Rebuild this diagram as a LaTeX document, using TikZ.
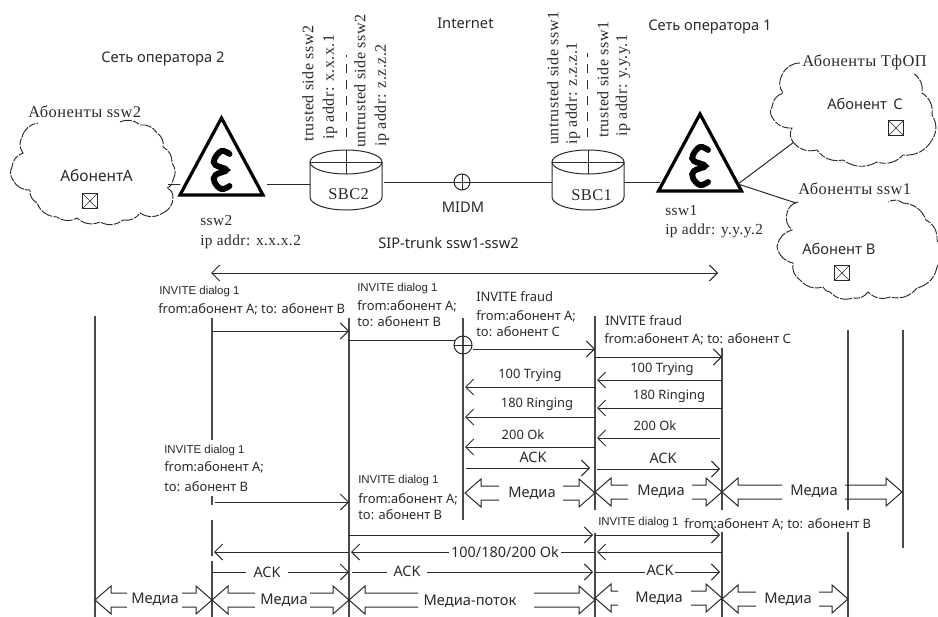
\documentclass[tikz,border=0pt]{standalone}
\usepackage{fontspec}
\setmainfont{Noto Sans}
\newfontfamily\serifcyr[LetterSpace=3]{Liberation Serif}
\newfontfamily\arialf{Liberation Sans}
\usetikzlibrary{arrows.meta,calc}
\definecolor{ink}{HTML}{2A2A2A}
\tikzset{
  lab/.style={anchor=west,inner sep=0pt,text=ink,font=\fontsize{9.7}{11}\selectfont},
  bigl/.style={lab,font=\fontsize{11}{13}\selectfont},
  ctr/.style={lab,anchor=center},
  ser/.style={lab,font=\serifcyr\fontsize{12.3}{14}\selectfont},
  sers/.style={lab,font=\serifcyr\fontsize{11.5}{14}\selectfont},
  rot/.style={lab,font=\serifcyr\fontsize{12}{14}\selectfont,rotate=90},
  inv/.style={lab,font=\arialf\fontsize{8.6}{10}\selectfont},
  line/.style={draw=ink,line width=0.75pt},
  msg/.style={line,-{Straight Barb[length=6pt,width=12pt]}},
  life/.style={draw=ink!85,line width=0.9pt},
  wb/.style={fill=white,inner sep=1.5pt,text=ink,font=\fontsize{10.8}{12}\selectfont},
  cloudline/.style={draw=ink,line width=0.7pt,dash pattern=on 9pt off 1pt on 5pt off 1pt},
  bl/.style={bend left=32},
  br/.style={bend right=32},
  tri/.style={draw=black,line width=2.4pt,line join=miter,fill=white},
  glyph/.style={draw=black,line width=4.4pt,line cap=round},
  anch/.style={inner sep=0pt,minimum size=0pt}
}
% block arrow: tip-left, tip-right, y, left shaft end, right shaft end
\newcommand{\blockarr}[5]{%
  \draw[line] (#4,#3-7)--(#1+16,#3-7)--(#1+16,#3-14)--(#1,#3)--(#1+16,#3+14)--(#1+16,#3+7)--(#4,#3+7);
  \draw[line] (#5,#3-7)--(#2-16,#3-7)--(#2-16,#3-14)--(#2,#3)--(#2-16,#3+14)--(#2-16,#3+7)--(#5,#3+7);
}
\newcommand{\msgarr}[5]{\draw[msg] ($(L#1 |- 0,#3)+(#4,0)$) -- ($(L#2 |- 0,#3)+(#5,0)$);}
\newcommand{\crossbox}[2]{%
  \draw[line] (#1-7.5,#2-7.5) rectangle (#1+7.5,#2+7.5);
  \draw[line,line width=0.5pt] (#1-7.5,#2-7.5)--(#1+7.5,#2+7.5) (#1-7.5,#2+7.5)--(#1+7.5,#2-7.5);
}
\newcommand{\sbc}[3]{% name, cx, label
  \draw[line,fill=white] (#2-36,162) -- (#2-36,197) arc[start angle=180,end angle=0,x radius=36,y radius=13] -- (#2+36,162);
  \draw[line,fill=white] (#2,162) ellipse[x radius=36,y radius=12];
  \draw[line] (#2-36,162)--(#2+36,162) (#2,150)--(#2,174);
  \node[anch,minimum width=54pt,minimum height=45pt] (#1) at (#2,182) {};
}
\newcommand{\ssw}[2]{% apex x, apex y
  \draw[tri] (#1,#2) -- (#1-41.5,#2+77) -- (#1+41.5,#2+77) -- cycle;
  \draw[glyph] plot[smooth,tension=0.7] coordinates {(#1+8,#2+36)(#1,#2+33)(#1-7,#2+41)(#1-6,#2+47)(#1+5,#2+52)(#1-6,#2+57)(#1-7,#2+64)(#1,#2+71)(#1+8,#2+68)};
}
\begin{document}
\begin{tikzpicture}[x=0.75pt,y=-0.75pt]
\useasboundingbox (0,0) rectangle (938,617);
\fill[white] (0,0) rectangle (938,617);

% anchors
\foreach \n/\x in {1/95,2/212,3/349,4/463,5/595,6/722,7/848,8/903} \coordinate (L\n) at (\x,0);

% clouds
\draw[cloudline] (120,122) to[bl] (140,125) to[bl] (157,133) to[bl] (163,147) to[bl] (172,163) to[bl] (173,180) to[bl] (167,188) to[bl] (173,197) to[bl] (163,213) to[bl] (140,213) to[bl] (123,220) to[bl] (100,222) to[bl] (77,218) to[bl] (57,217) to[bl] (37,203) to[bl] (30,190) to[bl] (13,180) to[bl] (12,167) to[bl] (23,153) to[bl] (22,137) to[bl] (38,123);
\draw[cloudline] (800,63) to[br] (782,75) to[br] (783,93) to[br] (772,107) to[br] (772,117) to[br] (792,128) to[br] (793,142) to[br] (817,150) to[br] (843,160) to[br] (877,162) to[br] (903,155) to[br] (932,140) to[br] (932,115) to[br] (922,93) to[br] (913,73);
\draw[cloudline] (798,202) to[br] (787,213) to[br] (792,230) to[br] (777,247) to[br] (793,263) to[br] (800,280) to[br] (823,287) to[br] (830,292) to[br] (853,298) to[br] (868,292) to[br] (890,297) to[br] (917,288) to[br] (937,267) to[br] (937,240) to[br] (926,220) to[br] (903,203) to[br] (888,202);

% network elements
\ssw{221.5}{118}
\ssw{700}{114}
\node[anch] (sw2l) at (180,184) {};
\node[anch] (sw2r) at (267,184) {};
\node[anch] (sw1l) at (660,182) {};
\node[anch] (sw1r) at (738,184) {};
\node[anch] (cla) at (168,184) {};
\node[anch] (clc) at (794,142) {};
\node[anch] (clb) at (796,203) {};
\sbc{sbc2}{346}{SBC2}
\sbc{sbc1}{588}{SBC1}
\draw[line] (462,182) circle[radius=8];
\draw[line] (454,182)--(470,182) (462,174)--(462,190);
\node[anch,minimum size=12pt] (midm) at (462,182) {};

\draw[line] (cla) -- (sw2l);
\draw[line] (sw2r) -- (310,184);
\draw[line] (384,182) -- (midm);
\draw[line] (midm) -- (552,182);
\draw[line] (624,182) -- (sw1l);
\draw[line] (sw1r) -- (clc);
\draw[line] (sw1r) -- (clb);

\crossbox{90}{201}
\crossbox{896}{128}
\crossbox{842}{273}

% upper labels
\node[bigl] (t1) at (101,59) {Сеть оператора 2};
\node[bigl] (t2) at (437,23) {Internet};
\node[bigl] (t3) at (648,27) {Сеть оператора 1};
\node[ser] (t4) at (28,112) {Абоненты ssw2};
\node[ser] (t5) at (802,62) {Абоненты ТфОП};
\node[ser] (t6) at (798,189) {Абоненты ssw1};
\node[bigl,font=\fontsize{11.6}{13}\selectfont] (t7) at (60,176) {АбонентА};
\node[bigl] (t8) at (827,104) {Абонент\, С};
\node[bigl] (t9) at (802,249) {Абонент В};
\node[ser] (t10) at (328,194) {SBC2};
\node[ser] (t11) at (571,195) {SBC1};
\node[sers] (t12) at (200,220) {ssw2};
\node[sers] (t13) at (200,242) {ip addr: x.x.x.2};
\node[sers] (t14) at (665,211) {ssw1};
\node[sers] (t15) at (665,231) {ip addr: y.y.y.2};
\node[bigl,anchor=center] (t16) at (463,207) {MIDM};
\node[bigl] (t17) at (378,243) {SIP-trunk ssw1-ssw2};

\node[rot] (r1) at (308,142) {trusted side ssw2};
\node[rot] (r2) at (330,140) {ip addr: x.x.x.1};
\node[rot] (r3) at (360,148) {untrusted side ssw2};
\node[rot] (r4) at (382,147) {ip addr: z.z.z.2};
\node[rot] (r5) at (553,145) {untrusted side ssw1};
\node[rot] (r6) at (573,145) {ip addr: z.z.z.1};
\node[rot] (r7) at (603,138) {trusted side ssw1};
\node[rot] (r8) at (623,137) {ip addr: y.y.y.1};
\coordinate (d1a) at (346,137); \coordinate (d1b) at (346,55);
\coordinate (d2a) at (587,137); \coordinate (d2b) at (587,53);
\draw[line,dash pattern=on 7pt off 5pt] (d1a) -- (d1b);
\draw[line,dash pattern=on 7pt off 5pt] (d2a) -- (d2b);

% trunk
\coordinate (ta) at (211,273); \coordinate (tb) at (718,273);
\draw[line,{Straight Barb[length=6pt,width=12pt]}-{Straight Barb[length=6pt,width=12pt]}] (ta) -- (tb);

% lifelines
\draw[life] (L1 |- 0,316) -- (L1 |- 0,617);
\draw[life] (L2 |- 0,318) -- (L2 |- 0,440);
\draw[life] (L2 |- 0,496) -- (L2 |- 0,505);
\draw[life] (L2 |- 0,520) -- (L2 |- 0,556);
\draw[life] (L2 |- 0,561) -- (L2 |- 0,617);
\draw[life] (L3 |- 0,318) -- (L3 |- 0,617);
\draw[life] (L4 |- 0,318) -- (L4 |- 0,520);
\draw[life] (L5 |- 0,316) -- (L5 |- 0,510);
\draw[life] (L5 |- 0,533) -- (L5 |- 0,617);
\draw[life] (L6 |- 0,348) -- (L6 |- 0,510);
\draw[life] (L6 |- 0,532) -- (L6 |- 0,617);
\draw[life] (L7 |- 0,330) -- (L7 |- 0,510);
\draw[life] (L7 |- 0,532) -- (L7 |- 0,617);
\draw[life] (L8 |- 0,330) -- (L8 |- 0,548);

% upper messages
\msgarr{2}{3}{331}{0}{0}
\draw[line] (L3 |- 0,340) -- (454.5,340);
\node[anch,minimum size=13.5pt] (fr) at (463,345) {};
\draw[line] (463,345) circle[radius=9];
\draw[line] (454,345)--(472,345);
\draw[msg] (473,349) -- (L5 |- 0,349);
\msgarr{5}{6}{357}{0}{0}
\msgarr{6}{5}{380}{0}{2}
\msgarr{5}{4}{387}{0}{2}
\msgarr{6}{5}{408}{0}{2}
\msgarr{5}{4}{417}{0}{2}
\msgarr{6}{5}{438}{-2}{2}
\msgarr{5}{4}{447}{0}{2}
\msgarr{4}{5}{468}{3}{-5}
\msgarr{5}{6}{469}{2}{-2}
\blockarr{465}{595}{493}{499}{563}
\blockarr{595}{722}{492}{628}{692}
\blockarr{722}{902}{492}{782}{845}

% lower messages
\msgarr{2}{3}{502}{3}{0}
\msgarr{3}{5}{535}{0}{-2}
\msgarr{5}{6}{535}{0}{-2}
\msgarr{3}{2}{552}{0}{2}
\msgarr{5}{3}{552}{0}{2}
\msgarr{6}{5}{552}{0}{2}
\msgarr{2}{3}{572}{0}{0}
\msgarr{3}{5}{572}{3}{-2}
\msgarr{5}{6}{572}{0}{-2}
\blockarr{95}{212}{600}{127}{182}
\blockarr{212}{349}{600}{255}{310}
\blockarr{349}{595}{600}{418}{534}
\blockarr{595}{722}{598}{618}{691}
\blockarr{722}{848}{599}{756}{819}

% message labels
\node[inv] (a1) at (159,292) {INVITE dialog 1};
\node[lab] (a2) at (158,309) {from:абонент А; to: абонент В};
\node[inv] (b1) at (357,289) {INVITE dialog 1};
\node[lab] (b2) at (357,306) {from:абонент А;};
\node[lab] (b3) at (357,322) {to: абонент В};
\node[lab] (c1) at (476,297) {INVITE fraud};
\node[lab] (c2) at (476,316) {from:абонент А;};
\node[lab] (c3) at (476,332) {to: абонент С};
\node[lab] (d1) at (605,321) {INVITE fraud};
\node[lab] (d2) at (604,339) {from:абонент А; to: абонент С};
\node[inv] (e1) at (164,451) {INVITE dialog 1};
\node[lab] (e2) at (164,467) {from:абонент А;};
\node[lab] (e3) at (164,487) {to: абонент В};
\node[inv] (f1) at (358,481) {INVITE dialog 1};
\node[lab] (f2) at (358,499) {from:абонент А;};
\node[lab] (f3) at (358,515) {to: абонент В};
\node[inv] (g1) at (598,523) {INVITE dialog 1};
\node[lab] (g2) at (684,524) {from:абонент А; to: абонент В};

\node[ctr] (m1) at (530,375) {100 Trying};
\node[ctr] (m2) at (662,369) {100 Trying};
\node[ctr] (m3) at (537,404) {180 Ringing};
\node[ctr] (m4) at (669,396) {180 Ringing};
\node[ctr] (m5) at (523,435) {200 Ok};
\node[ctr] (m6) at (655,426) {200 Ok};
\node[ctr,font=\fontsize{10.8}{12}\selectfont] (m7) at (533,457) {ACK};
\node[ctr,font=\fontsize{10.8}{12}\selectfont] (m8) at (663,458) {ACK};

\node[wb] (n1) at (505,552) {100/180/200 Ok};
\node[wb,inner xsep=6pt] (n2) at (267,572) {ACK};
\node[wb,inner xsep=5pt] (n3) at (407,571) {ACK};
\node[wb,inner xsep=1pt] (n4) at (660,570) {ACK};

\tikzset{med/.style={ctr,font=\fontsize{11}{13}\selectfont}}
\node[med] (p1) at (532,493) {Медиа};
\node[med] (p2) at (661,491) {Медиа};
\node[med] (p3) at (814,491) {Медиа};
\node[med] (p4) at (155,599) {Медиа};
\node[med] (p5) at (284,600) {Медиа};
\node[med] (p6) at (470,601) {Медиа-поток};
\node[med] (p7) at (659,598) {Медиа};
\node[med] (p8) at (788,599) {Медиа};
\end{tikzpicture}
\end{document}
